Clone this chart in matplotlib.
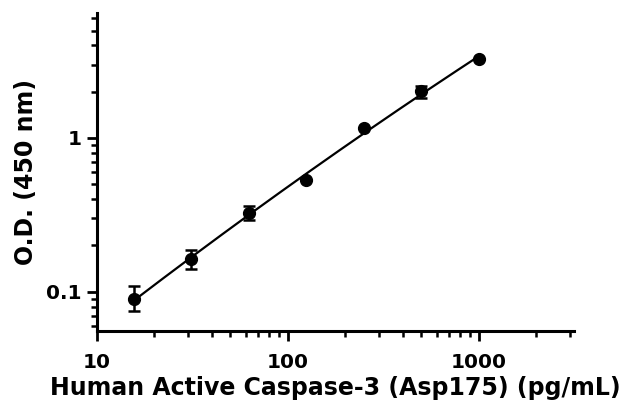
import numpy as np
import matplotlib
matplotlib.use("Agg")
import matplotlib.pyplot as plt
from matplotlib.ticker import LogLocator, NullFormatter, FixedLocator, FixedFormatter

# ── DATA ───────────────────────────────────────────────────────
conc = [15.6, 31.25, 62.5, 125, 250, 500, 1000]          # pg/mL
od = [0.090, 0.162, 0.326, 0.530, 1.16, 2.02, 3.26]      # O.D. 450 nm
err_lo = [0.015, 0.021, 0.032, 0.0, 0.0, 0.19, 0.0]
err_hi = [0.019, 0.025, 0.035, 0.0, 0.0, 0.16, 0.0]

x_ticks = [10, 100, 1000]
x_ticklabels = ["10", "100", "1000"]
y_ticks = [0.1, 1]
y_ticklabels = ["0.1", "1"]

plt.rcParams["font.family"] = ["DejaVu Sans"]
plt.rcParams["font.weight"] = "bold"

fig = plt.figure(figsize=(6.24, 4.07), dpi=100)
ax = fig.add_axes([0.1554, 0.1867, 0.7646, 0.7813])

# fitted standard curve (quadratic fit in log-log space)
lx = np.log10(conc)
ly = np.log10(od)
coef = np.polyfit(lx, ly, 2)
xs = np.linspace(lx[0], lx[-1], 200)
ax.plot(10 ** xs, 10 ** np.polyval(coef, xs), color="black", lw=1.6, zorder=2)

ax.errorbar(conc, od, yerr=[err_lo, err_hi], fmt="o", color="black",
            ms=8.5, capsize=4.5, capthick=1.8, elinewidth=1.8, zorder=3)

ax.set_xscale("log")
ax.set_yscale("log")
ax.set_xlim(10, 3150)
ax.set_ylim(0.0555, 6.5)

for s in ["top", "right"]:
    ax.spines[s].set_visible(False)
for s in ["left", "bottom"]:
    ax.spines[s].set_linewidth(2.2)

ax.xaxis.set_major_locator(FixedLocator(x_ticks))
ax.xaxis.set_major_formatter(FixedFormatter(x_ticklabels))
ax.yaxis.set_major_locator(FixedLocator(y_ticks))
ax.yaxis.set_major_formatter(FixedFormatter(y_ticklabels))
ax.xaxis.set_minor_locator(LogLocator(base=10, subs=np.arange(2, 10)))
ax.yaxis.set_minor_locator(LogLocator(base=10, subs=np.arange(2, 10)))
ax.xaxis.set_minor_formatter(NullFormatter())
ax.yaxis.set_minor_formatter(NullFormatter())

ax.tick_params(which="major", length=7, width=2, labelsize=14.5)
ax.tick_params(axis="x", which="major", pad=9)
ax.tick_params(axis="y", which="major", pad=4)
ax.tick_params(which="minor", length=4.5, width=1.8)

ax.set_xlabel("Human Active Caspase-3 (Asp175) (pg/mL)", fontsize=17,
              fontweight="bold", labelpad=3)
ax.set_ylabel("O.D. (450 nm)", fontsize=17, fontweight="bold", labelpad=6)

fig.savefig("out.png", dpi=100)
